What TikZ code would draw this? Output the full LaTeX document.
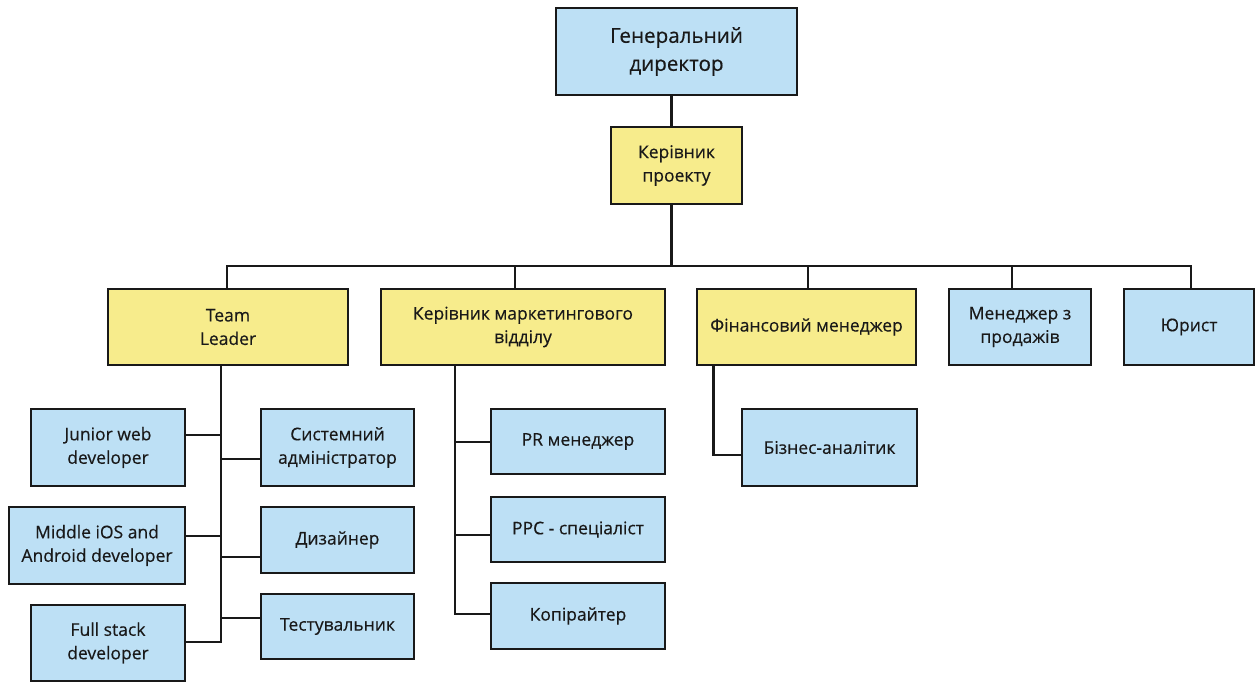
\documentclass[tikz,border=0pt]{standalone}
\usepackage{fontspec}
\setmainfont{Open Sans}
\begin{document}
\begin{tikzpicture}[x=1pt,y=-1pt,
  box/.style={draw=black!90, line width=1.8pt, align=center, inner sep=2pt,
    font=\fontsize{17.5}{23.5}\selectfont\addfontfeatures{FakeBold=0.4}, text=black!90},
  bluebox/.style={box, fill=boxblue},
  yellowbox/.style={box, fill=boxyellow},
  link/.style={draw=black!90, line width=2.2pt}]
\definecolor{boxblue}{RGB}{189,224,245}
\definecolor{boxyellow}{RGB}{247,236,140}
\useasboundingbox (0,0) rectangle (1256,684);

% top of the hierarchy
\node[bluebox, minimum width=241, minimum height=87,
  font=\fontsize{20.6}{28}\selectfont\addfontfeatures{FakeBold=0.4}] (gd) at (676.5,51.5) {Генеральний\\директор};
\node[yellowbox, minimum width=131, minimum height=77] (kp) at (676.5,165.5) {Керівник\\проекту};

% second level
\node[yellowbox, minimum width=240, minimum height=76] (tl) at (228,327) {Team\\Leader};
\node[yellowbox, minimum width=284, minimum height=76] (km) at (523,327) {Керівник маркетингового\\відділу};
\node[yellowbox, minimum width=219, minimum height=76] (fm) at (806.5,327) {Фінансовий менеджер};
\node[bluebox, minimum width=142, minimum height=76] (ms) at (1020,327) {Менеджер з\\продажів};
\node[bluebox, minimum width=130, minimum height=76] (yu) at (1189,327) {Юрист};

% development team
\node[bluebox, minimum width=154, minimum height=77] (jw) at (108,447.5) {Junior web\\developer};
\node[bluebox, minimum width=153, minimum height=77] (sa) at (337.5,447.5) {Системний\\адміністратор};
\node[bluebox, minimum width=176, minimum height=77] (mi) at (97,545.5) {Middle iOS and\\Android developer};
\node[bluebox, minimum width=153, minimum height=66] (dz) at (337.5,540) {Дизайнер};
\node[bluebox, minimum width=154, minimum height=76] (fs) at (108,643) {Full stack\\developer};
\node[bluebox, minimum width=153, minimum height=65] (ts) at (337.5,626.5) {Тестувальник};

% marketing department
\node[bluebox, minimum width=174, minimum height=65] (pr) at (578,441.5) {PR менеджер};
\node[bluebox, minimum width=174, minimum height=65] (ppc) at (578,529.5) {PPC - спеціаліст};
\node[bluebox, minimum width=174, minimum height=66] (kop) at (578,616) {Копірайтер};

% finance
\node[bluebox, minimum width=175, minimum height=77] (ba) at (829.5,447.5) {Бізнес-аналітик};

% trunk and bus
\coordinate (trunk) at (671.5,266);
\coordinate (busL) at (227,266);
\coordinate (busR) at (1191,266);
\draw[link] (gd.south -| trunk) -- (kp.north -| trunk);
\draw[link] (kp.south -| trunk) -- (trunk);
\draw[link] (tl.north -| busL) -- (busL) -- (busR) -- (yu.north -| busR);
\draw[link] (km.north -| 515,0) -- (515,266);
\draw[link] (fm.north -| 808,0) -- (808,266);
\draw[link] (ms.north -| 1012,0) -- (1012,266);

% development team spine
\coordinate (tlEnd) at (221,642);
\draw[link] (tl.south -| tlEnd) -- (tlEnd) -- (fs.east |- tlEnd);
\draw[link] (jw.east |- 0,435) -- (221,435);
\draw[link] (sa.west |- 0,459) -- (221,459);
\draw[link] (mi.east |- 0,536) -- (221,536);
\draw[link] (dz.west |- 0,557) -- (221,557);
\draw[link] (ts.west |- 0,618) -- (221,618);

% marketing spine
\coordinate (kmEnd) at (455,614);
\draw[link] (km.south -| kmEnd) -- (kmEnd) -- (kop.west |- kmEnd);
\draw[link] (pr.west |- 0,442) -- (455,442);
\draw[link] (ppc.west |- 0,535) -- (455,535);

% finance link
\coordinate (fmEnd) at (713.5,455);
\draw[link] (fm.south -| fmEnd) -- (fmEnd) -- (ba.west |- fmEnd);
\end{tikzpicture}
\end{document}
